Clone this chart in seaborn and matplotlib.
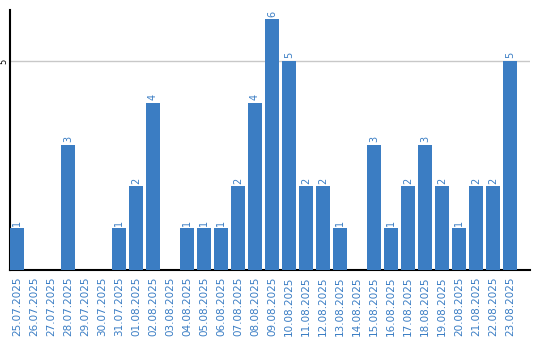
import matplotlib
matplotlib.use("Agg")
import matplotlib.pyplot as plt
import seaborn as sns
import pandas as pd

dates = ["25.07.2025", "26.07.2025", "27.07.2025", "28.07.2025", "29.07.2025",
         "30.07.2025", "31.07.2025", "01.08.2025", "02.08.2025", "03.08.2025",
         "04.08.2025", "05.08.2025", "06.08.2025", "07.08.2025", "08.08.2025",
         "09.08.2025", "10.08.2025", "11.08.2025", "12.08.2025", "13.08.2025",
         "14.08.2025", "15.08.2025", "16.08.2025", "17.08.2025", "18.08.2025",
         "19.08.2025", "20.08.2025", "21.08.2025", "22.08.2025", "23.08.2025"]
counts = [1, 0, 0, 3, 0, 0, 1, 2, 4, 0,
          1, 1, 1, 2, 4, 6, 5, 2, 2, 1,
          0, 3, 1, 2, 3, 2, 1, 2, 2, 5]

bar_color = "#3b7dc3"
text_color = "#3a7dc4"

sns.set_style("white")
plt.rcParams['font.family'] = ['DejaVu Sans']

df = pd.DataFrame({"date": dates, "count": counts})

fig = plt.figure(figsize=(5.4, 3.4), dpi=100)
ax = fig.add_axes([10/540, 70/340, 520/540, 260/340])
sns.barplot(data=df, x="date", y="count", color=bar_color, width=0.82,
            saturation=1, ax=ax, zorder=3, linewidth=0, edgecolor="none")

for i, v in enumerate(counts):
    if v > 0:
        ax.text(i, v + 0.06, str(v), rotation=90, ha="center", va="bottom",
                fontsize=7, color=text_color)

ax.set_xlim(-0.41, 30.18)
ax.set_ylim(0, 6.22)
ax.set_yticks([5])
ax.set_yticklabels(["5"], rotation=90, va="center", fontsize=6, color="black")
ax.tick_params(axis="y", length=0, pad=1)
ax.tick_params(axis="x", length=0, pad=5)
ax.set_xticks(range(len(dates)))
ax.set_xticklabels(dates, rotation=90, fontsize=7.5, color=text_color)
ax.grid(axis="y", color="#c8c8c8", linewidth=1, zorder=0)
ax.set_xlabel("")
ax.set_ylabel("")
for s in ["top", "right"]:
    ax.spines[s].set_visible(False)
for s in ["left", "bottom"]:
    ax.spines[s].set_color("black")
    ax.spines[s].set_linewidth(1.5)

fig.savefig("out.png", dpi=100)
